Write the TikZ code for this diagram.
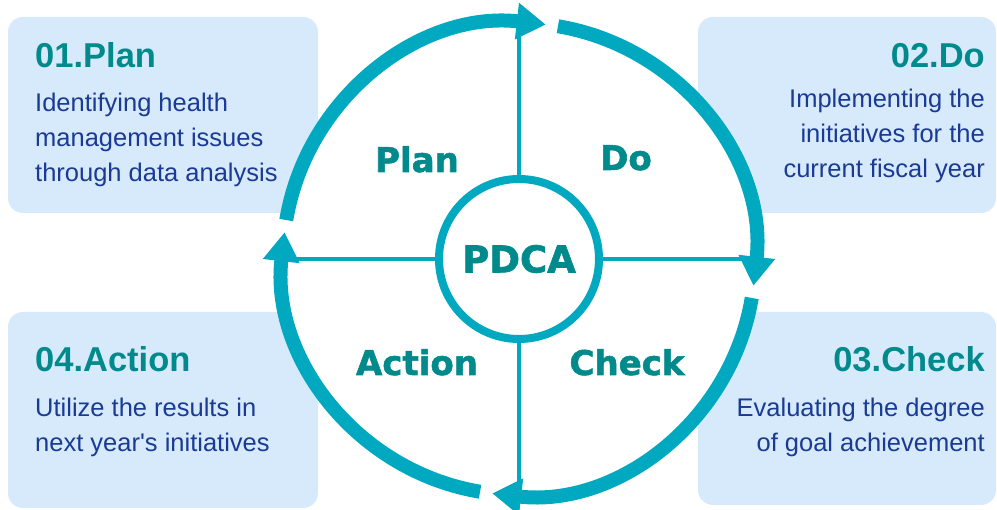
\documentclass[tikz,border=0pt]{standalone}
\usepackage{fontspec}
\setmainfont{Liberation Sans}
\newfontfamily\boxfont{Liberation Sans}
\newfontfamily\labfont[BoldFeatures={FakeBold=1.6}]{DejaVu Sans}
\usetikzlibrary{arrows.meta}
\definecolor{ring}{RGB}{0,168,192}
\definecolor{headc}{RGB}{0,138,140}
\definecolor{bodyc}{RGB}{26,58,148}
\definecolor{boxc}{RGB}{214,234,252}
\begin{document}
\begin{tikzpicture}[x=1pt,y=1pt,
  infobox/.style={fill=boxc, rounded corners=15pt, inner sep=0pt, outer sep=0pt, anchor=north west},
  head/.style={font=\boxfont\fontsize{34.5}{40}\selectfont\bfseries, text=headc, inner sep=0pt},
  body/.style={font=\boxfont\fontsize{25.5}{35}\selectfont, text=bodyc, inner sep=0pt},
  quad/.style={font=\labfont\bfseries\fontsize{34}{40}\selectfont, text=headc, inner sep=0pt, anchor=base},
  ringarc/.style={draw=ring, line width=14pt, -{Triangle[length=29pt,width=35pt]}},
  axisline/.style={draw=ring, line width=4pt},
]
\useasboundingbox (0,0) rectangle (997,510);
\coordinate (c) at (519,251);
% info boxes
\node[infobox, minimum width=310, minimum height=196] (b1) at (8,493) {};
\node[infobox, minimum width=298, minimum height=196] (b2) at (698,493) {};
\node[infobox, minimum width=298, minimum height=193] (b3) at (698,198) {};
\node[infobox, minimum width=310, minimum height=196] (b4) at (8,198) {};
% white disk
\fill[white] (c) circle (236);
% axis lines
\coordinate (L) at (283,251);
\coordinate (R) at (755,251);
\coordinate (T) at (519,487);
\coordinate (B) at (519,15);
\draw[axisline] (L) -- (R);
\draw[axisline] (T) -- (B);
% ring arcs
\draw[ringarc] ([shift={(170.5:236)}]c) arc[start angle=170.5, end angle=83.5, radius=236];
\draw[ringarc] ([shift={(80.5:236)}]c) arc[start angle=80.5, end angle=-6.5, radius=236];
\draw[ringarc] ([shift={(-9.5:236)}]c) arc[start angle=-9.5, end angle=-96.5, radius=236];
\draw[ringarc] ([shift={(-99.5:236)}]c) arc[start angle=-99.5, end angle=-186.5, radius=236];
% center
\node[circle, draw=ring, line width=8pt, fill=white, minimum size=160, inner sep=0pt,
  font=\labfont\bfseries\fontsize{37}{40}\selectfont, text=headc] (pdca) at (c) {PDCA};
% quadrant labels
\node[quad] (qp) at (417,338) {Plan};
\node[quad] (qd) at (626,340) {Do};
\node[quad] (qa) at (417,135) {Action};
\node[quad] (qc) at (627,135) {Check};
% box texts (multi-line nodes: base = last line's baseline)
\node[head, anchor=base west] (h1) at (35,442) {01.Plan};
\node[body, anchor=base west, align=left] (t1) at (35,328) {Identifying health\\management issues\\through data analysis};
\node[head, anchor=base east] (h2) at (985,442) {02.Do};
\node[body, anchor=base east, align=right] (t2) at (985,332) {Implementing the\\initiatives for the\\current fiscal year};
\node[head, anchor=base east] (h3) at (985,138) {03.Check};
\node[body, anchor=base east, align=right] (t3) at (985,58) {Evaluating the degree\\of goal achievement};
\node[head, anchor=base west] (h4) at (35,138) {04.Action};
\node[body, anchor=base west, align=left] (t4) at (35,58) {Utilize the results in\\next year's initiatives};
\end{tikzpicture}
\end{document}
